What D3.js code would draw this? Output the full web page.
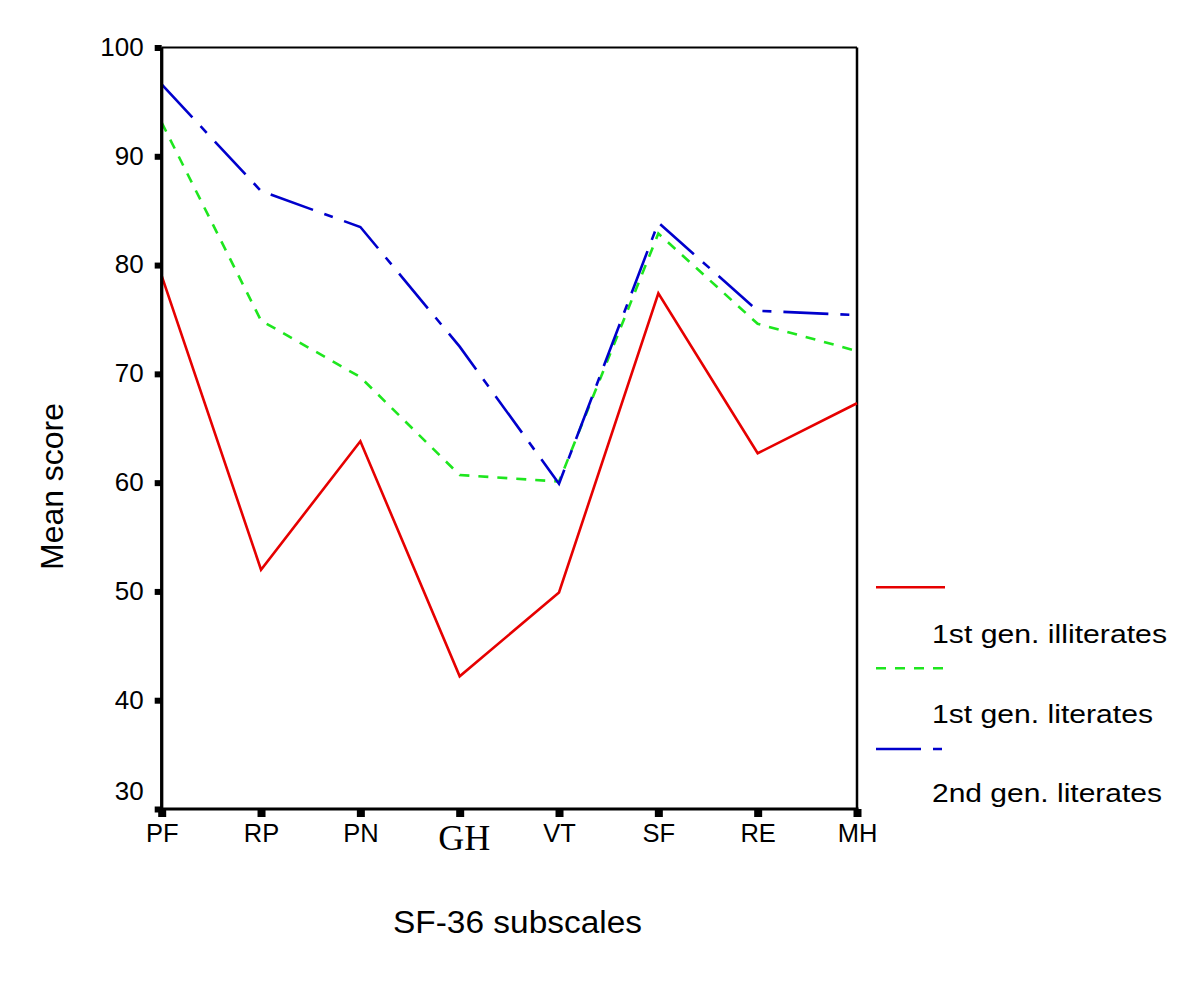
<!DOCTYPE html>
<html>
<head>
<meta charset="utf-8">
<script src="https://cdn.jsdelivr.net/npm/d3@7"></script>
<style>
  html, body { margin: 0; padding: 0; background: #fff; }
  svg { display: block; }
</style>
</head>
<body>
<svg id="chart" width="1199" height="1003"></svg>
<script>
const categories = ["PF", "RP", "PN", "GH", "VT", "SF", "RE", "MH"];
const illiterates1st = [79.0, 52.0, 63.8, 42.2, 49.9, 77.4, 62.7, 67.3];
const literates1st   = [93.1, 74.9, 69.7, 60.7, 60.1, 82.9, 74.6, 72.1];
const literates2nd   = [96.6, 86.8, 83.5, 72.5, 59.9, 83.9, 75.8, 75.4];
const yTicks = [30, 40, 50, 60, 70, 80, 90, 100];
const seriesNames = ["1st gen. illiterates", "1st gen. literates", "2nd gen. literates"];

(function () {
const svg = d3.select("#chart");
const pL = 161.7, pR = 857, pT = 47.5, pB = 809;

const x = d3.scalePoint().domain(categories).range([pL, pR]);
const y = d3.scaleLinear().domain([30, 100]).range([pB, pT]);

const font = "'Liberation Sans', Arial, Helvetica, sans-serif";

const series = [
  { name: seriesNames[0], values: illiterates1st, color: "#e60000", dash: null, textLen: 235 },
  { name: seriesNames[1], values: literates1st, color: "#1ee61e", dash: "10,9", textLen: 221 },
  { name: seriesNames[2], values: literates2nd, color: "#0000cc", dash: "45,12,9,12", textLen: 230 }
];

// frame (top & right)
svg.append("line").attr("x1", pL).attr("x2", pR).attr("y1", pT).attr("y2", pT)
  .attr("stroke", "#000").attr("stroke-width", 2);
svg.append("line").attr("x1", pR).attr("x2", pR).attr("y1", pT).attr("y2", pB)
  .attr("stroke", "#000").attr("stroke-width", 2.5);

// lines
const line = d3.line().x((d, i) => x(categories[i])).y(d => y(d));
series.forEach(s => {
  svg.append("path")
    .datum(s.values)
    .attr("d", line)
    .attr("fill", "none")
    .attr("stroke", s.color)
    .attr("stroke-width", 2.6)
    .attr("stroke-linejoin", "miter")
    .attr("stroke-dasharray", s.dash);
});

// y axis
const yAxis = svg.append("g").attr("transform", `translate(${pL},0)`)
  .call(d3.axisLeft(y).tickValues(yTicks).tickSize(0).tickPadding(18).tickFormat(d3.format("d")));
yAxis.select(".domain").attr("stroke", "#000").attr("stroke-width", 3.3).attr("d", `M0,${pT}V${pB + 1}`);
yAxis.selectAll(".tick").append("line").attr("x1", -7).attr("x2", 0).attr("stroke", "#000").attr("stroke-width", 6);
yAxis.selectAll(".tick text")
  .attr("font-family", font).attr("font-size", 26).attr("fill", "#000")
  .attr("dy", d => d === 30 ? "-0.35em" : "0.3em");

// x axis
const xAxis = svg.append("g").attr("transform", `translate(0,${pB})`)
  .call(d3.axisBottom(x).tickSize(0).tickPadding(0));
xAxis.select(".domain").attr("stroke", "#000").attr("stroke-width", 3).attr("d", `M${pL - 1.5},0H${pR + 1.5}`);
xAxis.selectAll(".tick").append("line").attr("y1", 0).attr("y2", 8).attr("stroke", "#000").attr("stroke-width", 8);
xAxis.selectAll(".tick text")
  .attr("fill", "#000")
  .attr("dy", null)
  .attr("y", d => d === "GH" ? 41 : 32.5)
  .attr("font-family", d => d === "GH" ? "'Liberation Serif', 'Times New Roman', serif" : font)
  .attr("font-size", d => d === "GH" ? 36 : 25.5)
  .attr("dx", d => d === "GH" ? 4 : 0);

// axis titles
svg.append("text")
  .attr("transform", "translate(63,486.5) rotate(-90)")
  .attr("text-anchor", "middle")
  .attr("font-family", font).attr("font-size", 31)
  .attr("textLength", 167).attr("lengthAdjust", "spacingAndGlyphs")
  .text("Mean score");
svg.append("text")
  .attr("x", 517.5).attr("y", 933)
  .attr("text-anchor", "middle")
  .attr("font-family", font).attr("font-size", 31)
  .attr("textLength", 249).attr("lengthAdjust", "spacingAndGlyphs")
  .text("SF-36 subscales");

// legend
const legendLineY = [587.3, 668.3, 749];
const legendTextY = [643, 723.3, 801.7];
const legend = svg.append("g");
series.forEach((s, i) => {
  legend.append("line")
    .attr("x1", 876).attr("x2", 945)
    .attr("y1", legendLineY[i]).attr("y2", legendLineY[i])
    .attr("stroke", s.color).attr("stroke-width", 2.6)
    .attr("stroke-dasharray", s.dash);
  legend.append("text")
    .attr("x", 932).attr("y", legendTextY[i])
    .attr("font-family", font).attr("font-size", 25.5)
    .attr("textLength", s.textLen).attr("lengthAdjust", "spacingAndGlyphs")
    .text(s.name);
});
})();
</script>
</body>
</html>
